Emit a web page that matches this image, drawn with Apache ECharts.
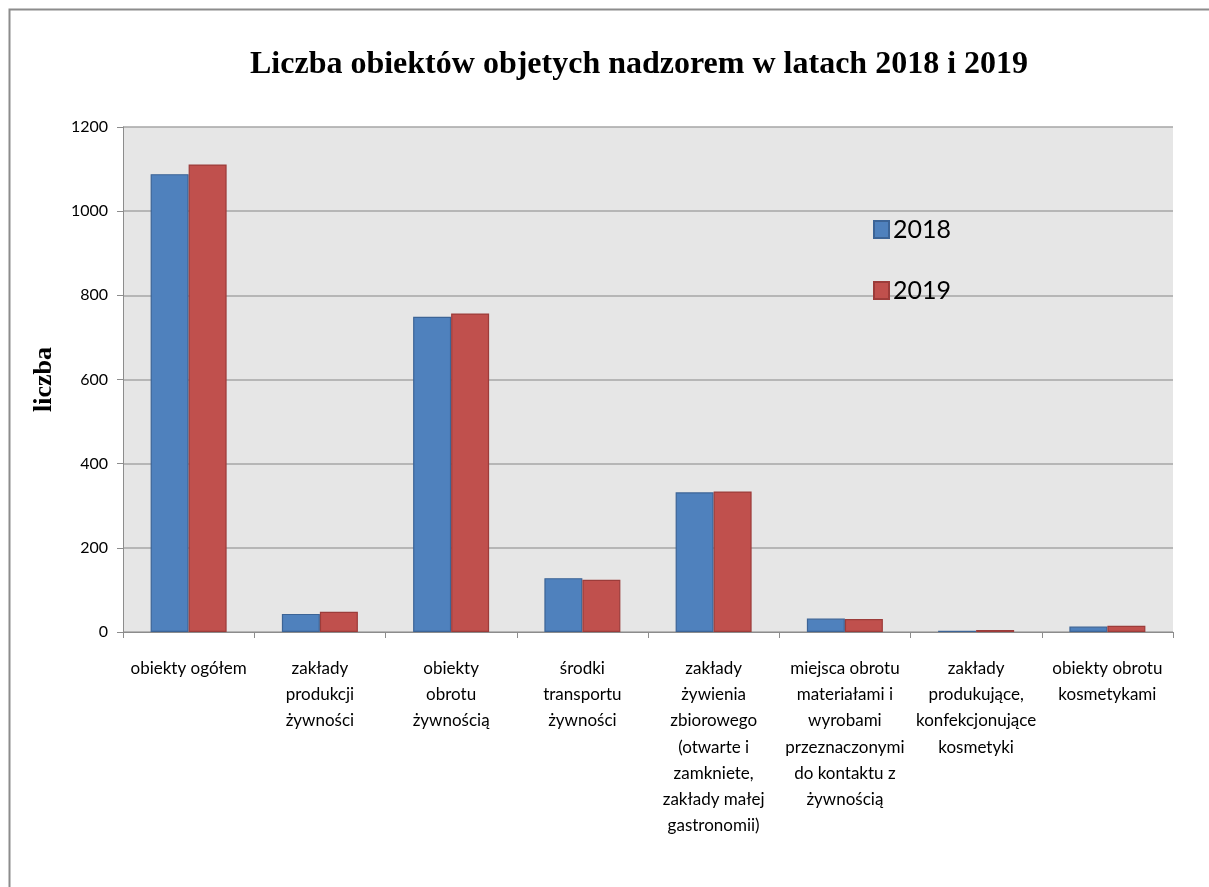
<!DOCTYPE html>
<html><head><meta charset="utf-8">
<script src="https://cdn.jsdelivr.net/npm/echarts@6/dist/echarts.min.js"></script>
<style>html,body{margin:0;padding:0;background:#fff}#c{width:1209px;height:887px}</style>
</head><body><div id="c"></div>
<script>
const categories = [
  'obiekty ogółem',
  'zakłady\nprodukcji\nżywności',
  'obiekty\nobrotu\nżywnością',
  'środki\ntransportu\nżywności',
  'zakłady\nżywienia\nzbiorowego\n(otwarte i\nzamkniete,\nzakłady małej\ngastronomii)',
  'miejsca obrotu\nmateriałami i\nwyrobami\nprzeznaczonymi\ndo kontaktu z\nżywnością',
  'zakłady\nprodukujące,\nkonfekcjonujące\nkosmetyki',
  'obiekty obrotu\nkosmetykami'
];
const values2018 = [1088, 43, 749, 128, 332, 32, 3, 13];
const values2019 = [1111, 48, 757, 124, 334, 31, 5, 15];
const seriesNames = ['2018', '2019'];

const chart = echarts.init(document.getElementById('c'), null, {renderer: 'canvas'});
chart.setOption({
  animation: false,
  backgroundColor: '#fff',
  graphic: [{
    type: 'rect', left: 7, top: 7, shape: {width: 1230, height: 900},
    style: {fill: 'none', stroke: '#8c8c8c', lineWidth: 2}
  }],
  title: {
    text: 'Liczba obiektów objetych nadzorem w latach 2018 i 2019',
    left: 634, top: 44, textAlign: 'center',
    textStyle: {fontFamily: 'Liberation Serif', fontWeight: 'bold', fontSize: 32, color: '#000'}
  },
  legend: {
    orient: 'vertical', left: 868, top: 212, itemWidth: 15, itemHeight: 17, itemGap: 36,
    icon: 'rect',
    textStyle: {fontFamily: 'Lato', fontSize: 25, color: '#000', padding: [0,0,0,-1]},
    data: seriesNames
  },
  grid: {
    left: 123, top: 127, right: 36, bottom: 255,
    show: true, backgroundColor: '#e6e6e6', borderWidth: 0
  },
  xAxis: {
    type: 'category', data: categories,
    axisLine: {lineStyle: {color: '#8c8c8c', width: 1}},
    axisTick: {show: true, length: 6, lineStyle: {color: '#8c8c8c'}},
    axisLabel: {interval: 0, fontFamily: 'Lato', fontSize: 17, color: '#000', lineHeight: 26.3, margin: 23, align: 'center'}
  },
  yAxis: {
    type: 'value', min: 0, max: 1200, interval: 200,
    name: 'liczba', nameLocation: 'middle', nameGap: 66, nameRotate: 90,
    nameTextStyle: {fontFamily: 'Liberation Serif', fontWeight: 'bold', fontSize: 26, color: '#000'},
    axisLine: {show: true, lineStyle: {color: '#8c8c8c'}},
    axisTick: {show: true, length: 6, lineStyle: {color: '#8c8c8c'}},
    axisLabel: {fontFamily: 'Lato', fontSize: 16, color: '#000', margin: 15, formatter: v => String(v)},
    splitLine: {lineStyle: {color: '#a6a6a6', width: 1.5}}
  },
  series: [
    {name: seriesNames[0], type: 'bar', data: values2018, barWidth: 38, barGap: '0%',
     itemStyle: {color: '#4F81BD', borderColor: '#3c6496', borderWidth: 1.2}},
    {name: seriesNames[1], type: 'bar', data: values2019, barWidth: 38,
     itemStyle: {color: '#C0504D', borderColor: '#9c3c3a', borderWidth: 1.2}}
  ]
});
</script></body></html>
